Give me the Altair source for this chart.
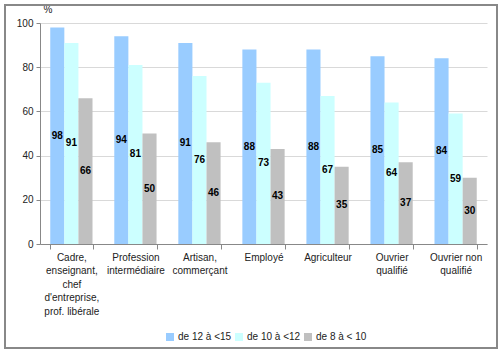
import altair as alt
import pandas as pd

categories = [
    "Cadre,|enseignant,|chef|d'entreprise,|prof. libérale",
    "Profession|intermédiaire",
    "Artisan,|commerçant",
    "Employé",
    "Agriculteur",
    "Ouvrier|qualifié",
    "Ouvrier non|qualifié",
]
series = ["de 12 à <15", "de 10 à <12", "de 8 à < 10"]
v_12_15 = [98, 94, 91, 88, 88, 85, 84]
v_10_12 = [91, 81, 76, 73, 67, 64, 59]
v_8_10 = [66, 50, 46, 43, 35, 37, 30]
colors = ["#99CCFF", "#CCFFFF", "#C0C0C0"]

rows = []
for s, vals in zip(series, [v_12_15, v_10_12, v_8_10]):
    for c, v in zip(categories, vals):
        rows.append({"category": c, "series": s, "value": v})
df = pd.DataFrame(rows)

FONT = "Liberation Sans"

x_enc = alt.X(
    "category:N",
    sort=categories,
    scale=alt.Scale(paddingInner=0.34, paddingOuter=0.16),
    axis=alt.Axis(
        title=None,
        labelAngle=0,
        labelExpr="split(datum.label, '|')",
        labelLineHeight=13.5,
        labelFontSize=10,
        labelColor="#222222",
        labelFont=FONT,
        labelPadding=3,
        tickBand="extent",
        tickSize=5,
        tickColor="#888888",
        domainColor="#888888",
        labelLimit=200,
    ),
)
xo_enc = alt.XOffset("series:N", sort=series, scale=alt.Scale(paddingInner=0, paddingOuter=0))

bars = alt.Chart(df).mark_bar().encode(
    x=x_enc,
    xOffset=xo_enc,
    y=alt.Y(
        "value:Q",
        scale=alt.Scale(domain=[0, 100]),
        axis=alt.Axis(
            values=[0, 20, 40, 60, 80, 100],
            title="%",
            titleAngle=0,
            titleX=3,
            titleY=-9,
            titleAlign="left",
            titleFontWeight="normal",
            titleFontSize=10,
            titleFont=FONT,
            titleColor="#222222",
            labelFontSize=10,
            labelFont=FONT,
            labelColor="#222222",
            tickSize=4,
            tickColor="#888888",
            domainColor="#888888",
            gridColor="#D9D9D9",
            labelPadding=3,
        ),
    ),
    color=alt.Color(
        "series:N",
        sort=series,
        scale=alt.Scale(domain=series, range=colors),
        legend=alt.Legend(
            title=None,
            orient="none",
            direction="horizontal",
            legendX=125,
            legendY=309,
            symbolType="square",
            symbolSize=64,
            symbolStrokeWidth=0,
            labelFontSize=10,
            labelFont=FONT,
            labelColor="#222222",
            labelOffset=3,
            columnPadding=2,
        ),
    ),
)

labels = alt.Chart(df).transform_calculate(mid="datum.value / 2").mark_text(
    font=FONT, fontSize=10, fontWeight="bold", color="#000000"
).encode(
    x=alt.X("category:N", sort=categories),
    xOffset=xo_enc,
    y=alt.Y("mid:Q"),
    text=alt.Text("value:Q"),
)

border = alt.Chart(pd.DataFrame({"b": [0]})).mark_rect(
    filled=False, stroke="#888888", strokeWidth=2
).encode(
    x=alt.value(-35), x2=alt.value(457), y=alt.value(-18), y2=alt.value(325)
)

chart = alt.layer(bars, labels, border).properties(
    width=447,
    height=221,
    padding={"left": 40, "top": 23, "right": 13, "bottom": 108},
    autosize=alt.AutoSizeParams(type="none"),
).configure_view(stroke=None)

chart.save("out.html", embed_options={"renderer": "svg", "actions": False})
